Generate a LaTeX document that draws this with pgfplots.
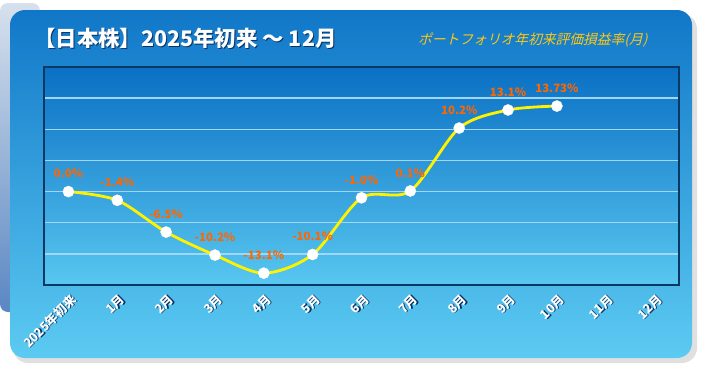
\documentclass[border=0pt]{standalone}
\usepackage{pgfplots}
\pgfplotsset{compat=1.18}
\usepackage{fontspec}
\setmainfont{Noto Sans CJK JP}
\newfontfamily\slantfont{Noto Sans CJK JP}[FakeSlant=0.25]
\definecolor{panelTop}{RGB}{16,119,200}
\definecolor{panelBot}{RGB}{92,203,242}
\definecolor{plotTop}{RGB}{10,112,196}
\definecolor{plotBot}{RGB}{88,199,240}
\definecolor{gridc}{RGB}{160,215,248}
\definecolor{navy}{RGB}{10,55,100}
\definecolor{shadowc}{RGB}{10,50,100}
\definecolor{labelorange}{RGB}{255,102,0}
\definecolor{gold}{RGB}{255,200,20}
\definecolor{stripTop}{RGB}{215,225,237}
\definecolor{stripBot}{RGB}{90,135,195}
\newcommand{\shadowtext}[1]{\leavevmode\rlap{\kern1pt\raisebox{-1pt}{\textcolor{shadowc}{#1}}}\textcolor{white}{#1}}
\begin{document}
\begin{tikzpicture}
\useasboundingbox (0,0) rectangle (708bp,-376bp);
\shade[top color=stripTop, bottom color=stripBot, rounded corners=8bp] (0bp,-3bp) rectangle (40bp,-312bp);
\fill[black!12, rounded corners=15bp] (13bp,-14bp) rectangle (697bp,-363bp);
\shade[top color=panelTop, bottom color=panelBot, rounded corners=15bp] (10bp,-10bp) rectangle (692bp,-358bp);
\node[anchor=west, inner sep=0pt, font=\bfseries\fontsize{21.5}{25}\selectfont] at (34bp,-39bp) {\shadowtext{【日本株】2025年初来 ～ 12月}};
\node[anchor=west, inner sep=0pt, font=\slantfont\fontsize{13.8}{16}\selectfont, text=gold] at (418bp,-40bp) {ポートフォリオ年初来評価損益率(月)};
\begin{axis}[
  at={(44bp,-285bp)}, anchor=south west,
  scale only axis, width=635bp, height=218bp,
  xmin=-0.5, xmax=12.5, ymin=-15, ymax=20,
  xtick={0,...,12},
  xticklabels={\shadowtext{2025年初来},\shadowtext{1月},\shadowtext{2月},\shadowtext{3月},\shadowtext{4月},\shadowtext{5月},\shadowtext{6月},\shadowtext{7月},\shadowtext{8月},\shadowtext{9月},\shadowtext{10月},\shadowtext{11月},\shadowtext{12月}},
  ytick={-10,-5,0,5,10,15}, yticklabels={},
  ymajorgrids, major grid style={color=gridc, line width=1.5bp},
  major tick length=0pt,
  axis line style={draw=navy, line width=1.3bp},
  axis background/.style={shade, top color=plotTop, bottom color=plotBot},
  xticklabel style={rotate=45, anchor=east, font=\bfseries\fontsize{12.5}{14}\selectfont, inner sep=1bp, yshift=-13bp, xshift=-4bp},
  clip=false,
]
\addplot[color=yellow, line width=2.8bp, smooth, mark=*, mark size=5.6bp,
  mark options={fill=white, draw=white, line width=0.3bp},
  nodes near coords, point meta=explicit symbolic,
  every node near coord/.append style={font=\bfseries\fontsize{11.5}{14}\selectfont, text=labelorange, anchor=center, yshift=18bp}]
coordinates {
(0,0.0) [0.0\%]
(1,-1.4) [-1.4\%]
(2,-6.5) [-6.5\%]
(3,-10.2) [-10.2\%]
(4,-13.1) [-13.1\%]
(5,-10.1) [-10.1\%]
(6,-1.0) [-1.0\%]
(7,0.1) [0.1\%]
(8,10.2) [10.2\%]
(9,13.1) [13.1\%]
(10,13.73) [13.73\%]
};
\end{axis}
\end{tikzpicture}
\end{document}
